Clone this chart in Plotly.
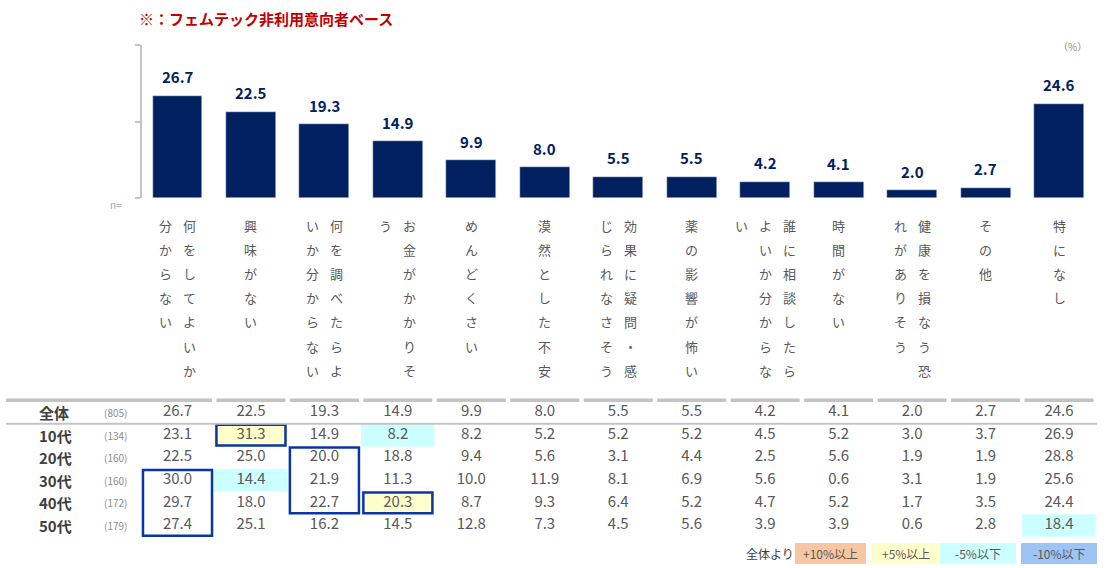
import plotly.graph_objects as go

categories = [
    "何をしてよいか分からない", "興味がない", "何を調べたらよいか分からない",
    "お金がかかりそう", "めんどくさい", "漠然とした不安",
    "効果に疑問・感じられなさそう", "薬の影響が怖い", "誰に相談したらよいか分からない",
    "時間がない", "健康を損なう恐れがありそう", "その他", "特になし",
]
overall = [26.7, 22.5, 19.3, 14.9, 9.9, 8.0, 5.5, 5.5, 4.2, 4.1, 2.0, 2.7, 24.6]

row_labels = ["全体", "10代", "20代", "30代", "40代", "50代"]
row_n = [805, 134, 160, 160, 172, 179]
age_10s = [23.1, 31.3, 14.9, 8.2, 8.2, 5.2, 5.2, 5.2, 4.5, 5.2, 3.0, 3.7, 26.9]
age_20s = [22.5, 25.0, 20.0, 18.8, 9.4, 5.6, 3.1, 4.4, 2.5, 5.6, 1.9, 1.9, 28.8]
age_30s = [30.0, 14.4, 21.9, 11.3, 10.0, 11.9, 8.1, 6.9, 5.6, 0.6, 3.1, 1.9, 25.6]
age_40s = [29.7, 18.0, 22.7, 20.3, 8.7, 9.3, 6.4, 5.2, 4.7, 5.2, 1.7, 3.5, 24.4]
age_50s = [27.4, 25.1, 16.2, 14.5, 12.8, 7.3, 4.5, 5.6, 3.9, 3.9, 0.6, 2.8, 18.4]
table_rows = [overall, age_10s, age_20s, age_30s, age_40s, age_50s]

# blue frames drawn by hand in the original: (column, first row, last row)
frames = [(0, 3, 5), (1, 1, 1), (2, 2, 4), (3, 4, 4)]

legend_labels = ["+10%以上", "+5%以上", "-5%以下", "-10%以下"]

W, H = 1108, 568
FONT = "Noto Sans CJK JP"
NAVY = "#002060"
GRAY_TXT = "#595959"
LINE_GRAY = "#c4c4c4"
FRAME_BLUE = "#0a35a8"
FILLS = {"p10": "#f9c6a2", "p5": "#ffffcc", "m5": "#ccffff", "m10": "#9ec4f4"}

X0_PX, STEP = 177.5, 73.46      # first bar centre / bar pitch in pixels
BASE_PX, TOP_PX = 198, 45       # bar axis 0 and 40
ROW0, ROW_H = 412.5, 22.6       # table rows
LBL_Y0, LBL_STEP = 225, 24.2    # vertical category labels


def xp(px):
    return px / W


def cell_fill(v, base):
    d = v - base
    if d >= 10:
        return FILLS["p10"]
    if d >= 5:
        return FILLS["p5"]
    if d <= -10:
        return FILLS["m10"]
    if d <= -5:
        return FILLS["m5"]
    return None


fig = go.Figure()
fig.add_bar(x=categories, y=overall, marker_color=NAVY, width=0.68,
            xaxis="x", yaxis="y", hoverinfo="skip")

annotations = []
shapes = []

# value labels above bars
for c, v in zip(categories, overall):
    annotations.append(dict(x=c, y=v, xref="x", yref="y", text="<b>%.1f</b>" % v,
                            showarrow=False, yanchor="middle", yshift=19,
                            font=dict(family=FONT, size=15, color=NAVY)))

# vertical (tategaki) category labels, columns of 7 chars, right to left
for c in categories:
    cols = [c[i:i + 7] for i in range(0, len(c), 7)]
    for k, col in enumerate(cols):
        shift = ((len(cols) - 1) / 2 - k) * 24
        for j, ch in enumerate(col):
            annotations.append(dict(x=c, y=LBL_Y0 + j * LBL_STEP, xref="x", yref="y2",
                                    text=ch, showarrow=False, xshift=shift,
                                    font=dict(family=FONT, size=13, color=GRAY_TXT)))

# table
row_y = [ROW0 + ROW_H * r for r in range(len(table_rows))]
for r, vals in enumerate(table_rows):
    fig.add_scatter(x=categories, y=[row_y[r]] * len(vals), mode="text",
                    text=["%.1f" % v for v in vals], xaxis="x", yaxis="y2",
                    textfont=dict(family=FONT, size=15, color=GRAY_TXT),
                    hoverinfo="skip", showlegend=False)
    annotations.append(dict(x=xp(37), y=row_y[r], xref="paper", yref="y2", xanchor="left",
                            text="<b>%s</b>" % row_labels[r], showarrow=False,
                            font=dict(family=FONT, size=15, color="#404040")))
    annotations.append(dict(x=xp(115), y=row_y[r], xref="paper", yref="y2", xanchor="center",
                            text="(%d)" % row_n[r], showarrow=False,
                            font=dict(family=FONT, size=10, color="#8c8c8c")))
    if r == 0:
        continue
    for i, v in enumerate(vals):
        col = cell_fill(v, overall[i])
        if col:
            shapes.append(dict(type="rect", xref="x", yref="y2", layer="below",
                               x0=i - 0.5, x1=i + 0.5,
                               y0=row_y[r] - ROW_H / 2, y1=row_y[r] + ROW_H / 2,
                               fillcolor=col, line_width=0))

for i, r0, r1 in frames:
    shapes.append(dict(type="rect", xref="x", yref="y2",
                       x0=i - 0.47, x1=i + 0.47,
                       y0=row_y[r0] - ROW_H / 2 + 1, y1=row_y[r1] + ROW_H / 2 - 1,
                       line=dict(color=FRAME_BLUE, width=2.5)))

# grey rules of the table
top = row_y[0] - ROW_H / 2 - 1
shapes.append(dict(type="line", xref="paper", yref="y2", x0=xp(6), x1=xp(212),
                   y0=top, y1=top, line=dict(color=LINE_GRAY, width=3.5)))
for i in range(1, len(categories)):
    shapes.append(dict(type="line", xref="x", yref="y2", x0=i - 0.47, x1=i + 0.47,
                       y0=top, y1=top, line=dict(color=LINE_GRAY, width=3.5)))
under = row_y[0] + ROW_H / 2
shapes.append(dict(type="line", xref="paper", yref="y2", x0=xp(6), x1=xp(1097),
                   y0=under, y1=under, line=dict(color=LINE_GRAY, width=2)))

# legend at bottom right
annotations.append(dict(x=xp(770), y=553, xref="paper", yref="y2", xanchor="center",
                        text="全体より", showarrow=False,
                        font=dict(family=FONT, size=12, color="#404040")))
leg_x = [(795, 866), (871, 940), (940, 1016), (1021, 1097)]
for (a, b), lab, key in zip(leg_x, legend_labels, ["p10", "p5", "m5", "m10"]):
    shapes.append(dict(type="rect", xref="paper", yref="y2", x0=xp(a), x1=xp(b),
                       y0=543, y1=564, fillcolor=FILLS[key], line_width=0))
    annotations.append(dict(x=xp((a + b) / 2), y=553.5, xref="paper", yref="y2",
                            xanchor="center", text=lab, showarrow=False,
                            font=dict(family=FONT, size=12, color=GRAY_TXT)))

# header texts
annotations.append(dict(x=xp(137), y=18, xref="paper", yref="y2", xanchor="left",
                        text="<b>※：フェムテック非利用意向者ベース</b>", showarrow=False,
                        font=dict(family=FONT, size=15, color="#c00000")))
annotations.append(dict(x=xp(1089), y=46, xref="paper", yref="y2", xanchor="right",
                        text="（%）", showarrow=False,
                        font=dict(family=FONT, size=10, color="#8c8c8c")))
annotations.append(dict(x=xp(116), y=204, xref="paper", yref="y2", xanchor="center",
                        text="n=", showarrow=False,
                        font=dict(family=FONT, size=10, color="#a6a6a6")))

fig.update_layout(
    width=W, height=H,
    margin=dict(l=0, r=0, t=0, b=0),
    paper_bgcolor="white", plot_bgcolor="rgba(0,0,0,0)",
    showlegend=False,
    bargap=0,
    xaxis=dict(range=[-X0_PX / STEP, (W - X0_PX) / STEP], domain=[0, 1],
               showticklabels=False, showgrid=False, zeroline=False, showline=False,
               ticks="", fixedrange=True),
    yaxis=dict(range=[0, 40], domain=[1 - BASE_PX / H, 1 - TOP_PX / H],
               anchor="free", position=141 / W,
               showgrid=False, zeroline=False, showticklabels=False,
               showline=True, linecolor=LINE_GRAY, linewidth=2,
               ticks="outside", tickvals=[0, 20, 40], ticklen=5, tickwidth=2,
               tickcolor=LINE_GRAY, fixedrange=True),
    yaxis2=dict(range=[H, 0], domain=[0, 1], anchor="x", visible=False,
                fixedrange=True),
    annotations=annotations,
    shapes=shapes,
)

# the page body has a default 8px margin, drop it so the figure sits at 0,0
fig.write_html("out.html", config={"displayModeBar": False},
               post_script="document.body.style.margin='0';")
